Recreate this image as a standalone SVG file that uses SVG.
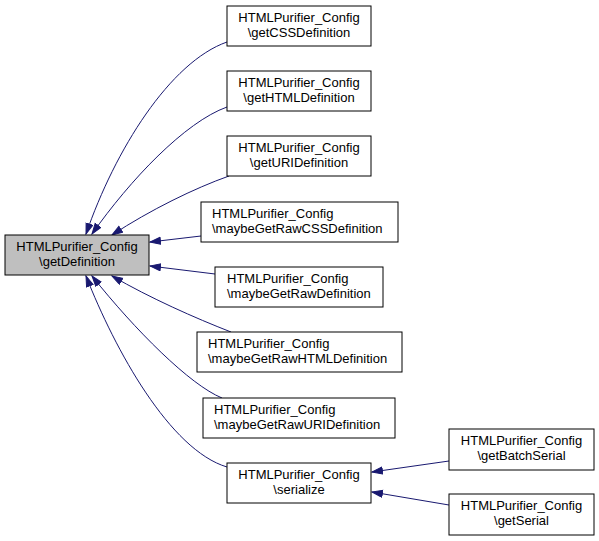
<svg xmlns="http://www.w3.org/2000/svg" width="599" height="541" viewBox="0 0 599 541">
<style>
.box{fill:#ffffff;stroke:#000000;stroke-width:1}
.cur{fill:#bfbfbf;stroke:#000000;stroke-width:1}
text{font-family:"Liberation Sans",Arial,Helvetica,sans-serif;font-size:13px;fill:#000000}
.m{text-anchor:middle}
.s{text-anchor:start}
.e{fill:none;stroke:#191970;stroke-width:1}
</style>
<defs>
<marker id="ah" markerUnits="userSpaceOnUse" markerWidth="12" markerHeight="10" refX="11" refY="4" orient="auto">
<path d="M0.5,0.5 L11,4 L0.5,7.5 z" fill="#191970" stroke="#191970" stroke-width="1"/>
</marker>
</defs>
<rect width="599" height="541" fill="#ffffff"/>
<g id="connectors">
<path class="e" marker-end="url(#ah)" d="M227,42 C170,62 115,150 86,234"/>
<path class="e" marker-end="url(#ah)" d="M227,107 C185,122 130,180 92,234"/>
<path class="e" marker-end="url(#ah)" d="M229,176 C195,188 150,210 112,235"/>
<path class="e" marker-end="url(#ah)" d="M201,236 L150,242"/>
<path class="e" marker-end="url(#ah)" d="M215,274 L150,266"/>
<path class="e" marker-end="url(#ah)" d="M231,332 C195,318 150,298 112,276"/>
<path class="e" marker-end="url(#ah)" d="M222,398 C190,385 135,330 92,276"/>
<path class="e" marker-end="url(#ah)" d="M227,467 C170,450 115,350 86,276"/>
<path class="e" marker-end="url(#ah)" d="M449,461 L372,472"/>
<path class="e" marker-end="url(#ah)" d="M449,505 L372,492"/>
</g>
<g id="getDefinition">
<rect class="cur" x="5" y="235" width="144" height="40"/>
<text class="m" x="77" y="251">HTMLPurifier_Config</text>
<text class="m" x="77" y="266">\getDefinition</text>
</g>
<g id="getCSSDefinition">
<rect class="box" x="227" y="6" width="144" height="40"/>
<text class="m" x="299" y="22">HTMLPurifier_Config</text>
<text class="m" x="299" y="37">\getCSSDefinition</text>
</g>
<g id="getHTMLDefinition">
<rect class="box" x="227" y="71" width="144" height="40"/>
<text class="m" x="299" y="87">HTMLPurifier_Config</text>
<text class="m" x="299" y="102">\getHTMLDefinition</text>
</g>
<g id="getURIDefinition">
<rect class="box" x="227" y="136" width="144" height="40"/>
<text class="m" x="299" y="152">HTMLPurifier_Config</text>
<text class="m" x="299" y="167">\getURIDefinition</text>
</g>
<g id="maybeGetRawCSSDefinition">
<rect class="box" x="201" y="202" width="197" height="40"/>
<text class="s" x="212" y="218">HTMLPurifier_Config</text>
<text class="s" x="212" y="233">\maybeGetRawCSSDefinition</text>
</g>
<g id="maybeGetRawDefinition">
<rect class="box" x="215" y="267" width="168" height="40"/>
<text class="s" x="227" y="283">HTMLPurifier_Config</text>
<text class="s" x="227" y="298">\maybeGetRawDefinition</text>
</g>
<g id="maybeGetRawHTMLDefinition">
<rect class="box" x="197" y="332" width="205" height="40"/>
<text class="s" x="208" y="348">HTMLPurifier_Config</text>
<text class="s" x="208" y="363">\maybeGetRawHTMLDefinition</text>
</g>
<g id="maybeGetRawURIDefinition">
<rect class="box" x="203" y="398" width="192" height="40"/>
<text class="s" x="214" y="414">HTMLPurifier_Config</text>
<text class="s" x="214" y="429">\maybeGetRawURIDefinition</text>
</g>
<g id="serialize">
<rect class="box" x="227" y="463" width="144" height="40"/>
<text class="m" x="299" y="479">HTMLPurifier_Config</text>
<text class="m" x="299" y="494">\serialize</text>
</g>
<g id="getBatchSerial">
<rect class="box" x="449" y="429" width="145" height="41"/>
<text class="m" x="521.5" y="445">HTMLPurifier_Config</text>
<text class="m" x="521.5" y="460">\getBatchSerial</text>
</g>
<g id="getSerial">
<rect class="box" x="449" y="494" width="145" height="41"/>
<text class="m" x="521.5" y="510">HTMLPurifier_Config</text>
<text class="m" x="521.5" y="525">\getSerial</text>
</g>
</svg>
